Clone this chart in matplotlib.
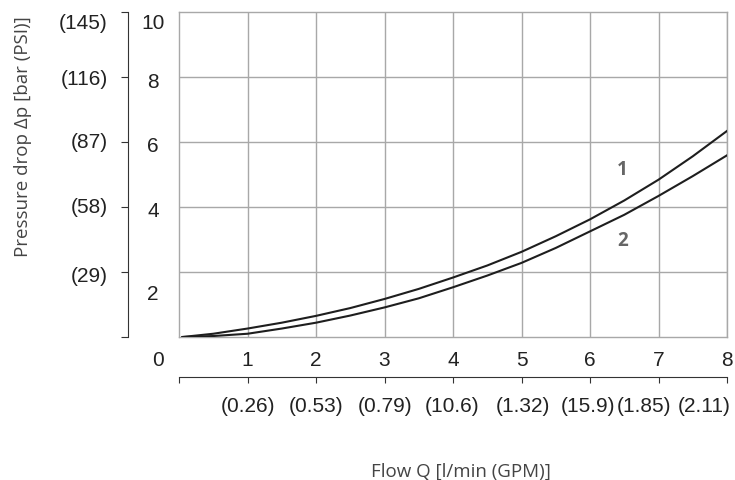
import matplotlib
matplotlib.use("Agg")
import matplotlib.pyplot as plt

# flow in l/min and pressure drop in bar
flow = [0.05, 0.5, 1, 1.5, 2, 2.5, 3, 3.5, 4, 4.5, 5, 5.5, 6, 6.5, 7, 7.5, 8]
dp_curve1 = [0.0, 0.10, 0.26, 0.44, 0.65, 0.89, 1.17, 1.48, 1.83, 2.20, 2.62,
             3.10, 3.62, 4.20, 4.84, 5.56, 6.34]
dp_curve2 = [0.0, 0.03, 0.10, 0.26, 0.44, 0.66, 0.91, 1.19, 1.53, 1.89, 2.28,
             2.74, 3.25, 3.76, 4.34, 4.95, 5.59]

x_ticks = [0, 1, 2, 3, 4, 5, 6, 7, 8]
gpm_labels = ['', '(0.26)', '(0.53)', '(0.79)', '(10.6)', '(1.32)', '(15.9)',
              '(1.85)', '(2.11)']
bar_ticks = [10, 8, 6, 4, 2]
psi_labels = ['(145)', '(116)', '(87)', '(58)', '(29)']

num_font = 'Liberation Sans'
txt_font = 'Open Sans'

fig = plt.figure(figsize=(7.35, 4.81), dpi=100)
ax = fig.add_axes([179 / 735, 1 - 338 / 481, 548 / 735, 325 / 481])
ax.set_xlim(0, 8)
ax.set_ylim(0, 10)

# grid
for x in x_ticks[1:]:
    ax.axvline(x, color='#a8a8a8', lw=1.0, zorder=1)
for y in [2, 4, 6, 8]:
    ax.axhline(y, color='#a8a8a8', lw=1.0, zorder=1)
for s in ax.spines.values():
    s.set_color('#a8a8a8')
    s.set_linewidth(1.0)
ax.set_xticks([])
ax.set_yticks([])

ax.plot(flow, dp_curve1, color='#1e1e1e', lw=1.5, zorder=3)
ax.plot(flow, dp_curve2, color='#1e1e1e', lw=1.5, zorder=3)
ax.text(6.47, 5.18, '1', fontsize=13.5, fontweight='bold', color='#666666',
        family=txt_font, ha='center', va='center')
ax.text(6.47, 2.97, '2', fontsize=13.5, fontweight='bold', color='#666666',
        family=txt_font, ha='center', va='center')

# left ruler (bar / PSI)
ruler_y = ax.secondary_yaxis(-51 / 548)
ruler_y.spines['left'].set_color('#333333')
ruler_y.set_yticks([0] + bar_ticks)
ruler_y.set_yticklabels([''] * 6)
ruler_y.tick_params(axis='y', direction='out', length=5, color='#333333')

psi_nudge = [11, 2, 0, 0, 4]
bar_nudge = [11, 5, 4, 4, 22]
for v, lab, dp, db in zip(bar_ticks, psi_labels, psi_nudge, bar_nudge):
    ax.annotate(lab, xy=(0, v), xycoords=('axes fraction', 'data'),
                xytext=(-71, -dp), textcoords='offset pixels',
                ha='right', va='center', fontsize=15, family=num_font,
                color='#222222', annotation_clip=False)
    ax.annotate(str(v), xy=(0, v), xycoords=('axes fraction', 'data'),
                xytext=(-26, -db), textcoords='offset pixels',
                ha='center', va='center', fontsize=15, family=num_font,
                color='#222222', annotation_clip=False)

# flow numbers under the plot
for x in x_ticks:
    dx = -21 if x == 0 else 0
    ax.annotate(str(x), xy=(x, 0), xycoords=('data', 'axes fraction'),
                xytext=(dx, -22), textcoords='offset pixels',
                ha='center', va='center', fontsize=15, family=num_font,
                color='#222222', annotation_clip=False)

# GPM ruler
ruler_x = ax.secondary_xaxis(-40 / 325)
ruler_x.spines['bottom'].set_color('#333333')
ruler_x.set_xticks(x_ticks)
ruler_x.set_xticklabels([''] * len(x_ticks))
ruler_x.tick_params(axis='x', direction='out', length=4, color='#333333')

gpm_shift = [0, 0, 0, 1, -1, 1, -2, -15, -23]
for x, lab, dx in zip(x_ticks, gpm_labels, gpm_shift):
    ax.annotate(lab, xy=(x, 0), xycoords=('data', 'axes fraction'),
                xytext=(dx, -68), textcoords='offset pixels',
                ha='center', va='center', fontsize=15, family=num_font,
                color='#222222', annotation_clip=False)

fig.text(461 / 735, 1 - 472 / 481, 'Flow Q [l/min (GPM)]', fontsize=13.5,
         family=txt_font, color='#444444', ha='center', va='center')
fig.text(23 / 735, 1 - 137 / 481, 'Pressure drop \u0394p [bar (PSI)]',
         fontsize=13.5, family=txt_font, color='#444444', rotation=90,
         ha='center', va='center')

fig.savefig('out.png', dpi=100)
